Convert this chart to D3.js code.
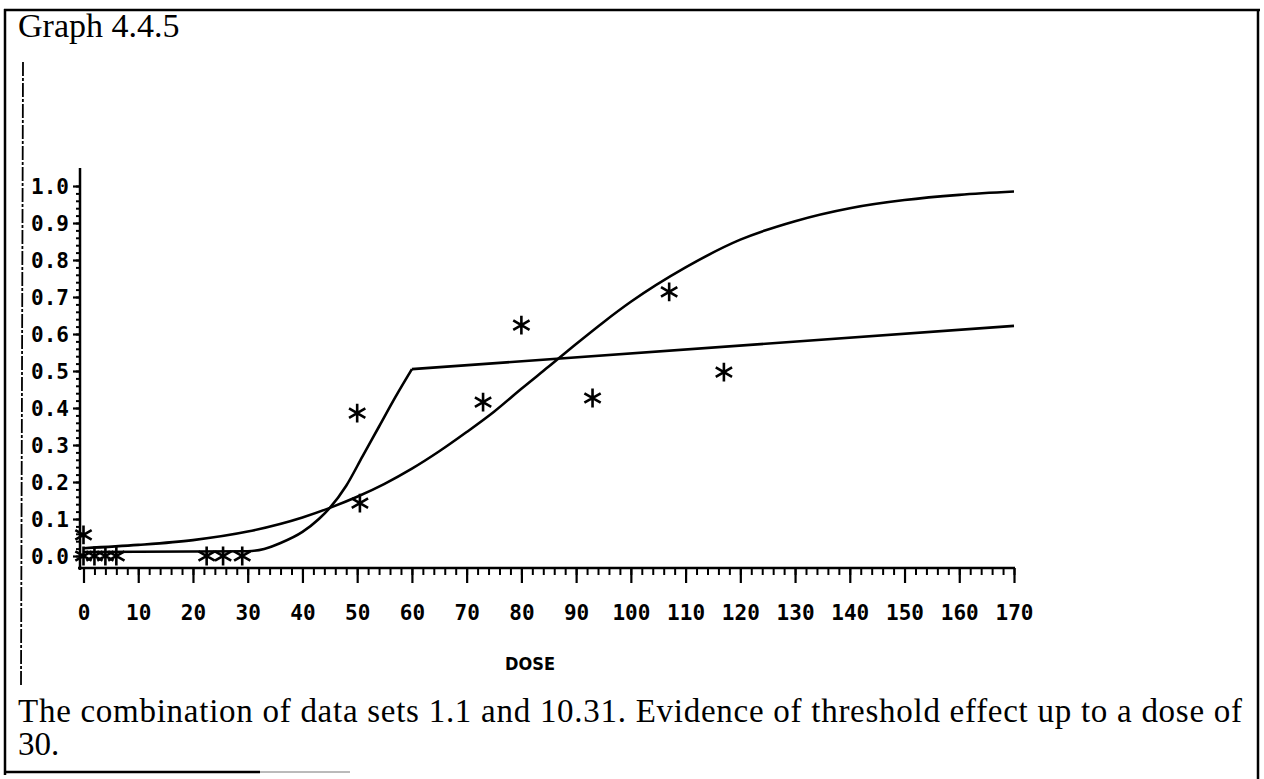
<!DOCTYPE html>
<html>
<head>
<meta charset="utf-8">
<script src="https://cdn.jsdelivr.net/npm/d3@7"></script>
<style>
  body { margin: 0; background: #fff; }
  svg { display: block; }
</style>
</head>
<body>
<div id="chart"></div>
<script>
// tick labels
const xTicks = [0, 10, 20, 30, 40, 50, 60, 70, 80, 90, 100, 110, 120, 130, 140, 150, 160, 170];
const yTicks = [0.0, 0.1, 0.2, 0.3, 0.4, 0.5, 0.6, 0.7, 0.8, 0.9, 1.0];

// observed points (stars)
const obsDose = [0, 0, 2, 4, 6, 22.5, 25.5, 29, 50, 50.5, 73, 80, 93, 107, 117];
const obsResp = [0.057, 0, 0, 0, 0, 0, 0, 0, 0.386, 0.143, 0.416, 0.624, 0.427, 0.714, 0.497];

// fitted logistic curve
const logitDose = [0, 10, 20, 30, 40, 45, 50, 55, 60, 65, 70, 75, 80, 85, 90, 95, 100, 110, 120, 130, 140, 150, 160, 170];
const logitResp = [0.021, 0.03, 0.043, 0.066, 0.104, 0.13, 0.16, 0.195, 0.236, 0.283, 0.335, 0.39, 0.452, 0.512, 0.573,
                   0.632, 0.687, 0.78, 0.855, 0.905, 0.94, 0.962, 0.976, 0.985];

// threshold model: flat, then rising to the kink at 60, then straight
const threshDose = [0, 30, 33, 36, 40, 43, 45, 48, 51, 54, 57, 60];
const threshResp = [0.011, 0.013, 0.019, 0.035, 0.065, 0.1, 0.13, 0.19, 0.27, 0.35, 0.43, 0.505];
const tailDose = [60, 170];
const tailResp = [0.505, 0.622];

const W = 1264, H = 779;
const svg = d3.select("#chart").append("svg")
  .attr("width", W).attr("height", H);

// page frame (scanned figure box)
const frame = svg.append("g").attr("stroke", "#000").attr("fill", "none");
frame.append("line").attr("x1", 4).attr("y1", 10).attr("x2", 1260).attr("y2", 10).attr("stroke-width", 2.5);
frame.append("line").attr("x1", 5).attr("y1", 9).attr("x2", 5).attr("y2", 775).attr("stroke-width", 2.5);
frame.append("line").attr("x1", 1258).attr("y1", 9).attr("x2", 1258).attr("y2", 779).attr("stroke-width", 2.5);
frame.append("line").attr("x1", 4).attr("y1", 772).attr("x2", 260).attr("y2", 772).attr("stroke-width", 2.5);
frame.append("line").attr("x1", 260).attr("y1", 772).attr("x2", 350).attr("y2", 772).attr("stroke-width", 1).attr("stroke", "#777");
frame.append("line").attr("x1", 23).attr("y1", 62).attr("x2", 21).attr("y2", 686)
  .attr("stroke-width", 1.8).attr("stroke-dasharray", "14,2,3,2");

svg.append("text")
  .attr("x", 18).attr("y", 37)
  .style("font-family", "'Liberation Serif', 'Times New Roman', serif")
  .style("font-size", "34px")
  .text("Graph 4.4.5");

const x = d3.scaleLinear().domain([0, 170]).range([83.5, 1014]);
const y = d3.scaleLinear().domain([0, 1]).range([556, 186]);

const monoFont = "'DejaVu Sans Mono', monospace";

// Y axis
const yAxisX = 80;
const gy = svg.append("g").attr("transform", `translate(${yAxisX},0)`);
gy.append("line").attr("x1", 0).attr("x2", 0).attr("y1", 168).attr("y2", 570)
  .attr("stroke", "#000").attr("stroke-width", 2.5);
gy.append("g")
  .call(d3.axisLeft(y).tickValues(d3.range(0, 1.001, 0.02)).tickSize(4).tickFormat(""))
  .call(g => g.select(".domain").remove())
  .call(g => g.selectAll("line").attr("stroke-width", 2));
gy.append("g")
  .call(d3.axisLeft(y).tickValues(yTicks).tickSize(7).tickFormat(d3.format(".1f")))
  .call(g => g.select(".domain").remove())
  .call(g => g.selectAll("line").attr("stroke-width", 2.2))
  .call(g => g.selectAll("text")
    .attr("x", -11).attr("dy", "0.36em")
    .style("font-family", monoFont).style("font-size", "21px").style("font-weight", "bold"));

// X axis
const xAxisY = 568;
const gx = svg.append("g").attr("transform", `translate(0,${xAxisY})`);
gx.append("line").attr("x1", 78).attr("x2", 1015).attr("y1", 0).attr("y2", 0)
  .attr("stroke", "#000").attr("stroke-width", 2.5);
gx.append("g")
  .call(d3.axisBottom(x).tickValues(d3.range(0, 171, 2)).tickSize(7).tickFormat(""))
  .call(g => g.select(".domain").remove())
  .call(g => g.selectAll("line").attr("stroke-width", 2));
gx.append("g")
  .call(d3.axisBottom(x).tickValues(xTicks).tickSize(15).tickFormat(d3.format("d")))
  .call(g => g.select(".domain").remove())
  .call(g => g.selectAll("line").attr("stroke-width", 2.2))
  .call(g => g.selectAll("text")
    .attr("y", 52).attr("dy", 0)
    .style("font-family", monoFont).style("font-size", "21px").style("font-weight", "bold"));

svg.append("text")
  .attr("x", 530).attr("y", 670)
  .attr("text-anchor", "middle")
  .style("font-family", "'DejaVu Sans Condensed', " + monoFont)
  .style("font-size", "18px").style("font-weight", "bold")
  .text("DOSE");

// curves
const plot = svg.append("g").attr("fill", "none").attr("stroke", "#000").attr("stroke-width", 2.6);

const smooth = d3.line().x(d => x(d[0])).y(d => y(d[1])).curve(d3.curveMonotoneX);
const straight = d3.line().x(d => x(d[0])).y(d => y(d[1]));

plot.append("path").attr("d", smooth(logitDose.map((d, i) => [d, logitResp[i]])));
plot.append("path").attr("d", smooth(threshDose.map((d, i) => [d, threshResp[i]])));
plot.append("path").attr("d", straight(tailDose.map((d, i) => [d, tailResp[i]])));

// stars
const star = d3.symbol().type(d3.symbolAsterisk).size(250);
svg.append("g")
  .selectAll("path")
  .data(obsDose.map((d, i) => [d, obsResp[i]]))
  .join("path")
  .attr("transform", d => `translate(${x(d[0])},${y(d[1])})`)
  .attr("d", star)
  .attr("fill", "none").attr("stroke", "#000").attr("stroke-width", 2.6);

// caption
const cap = svg.append("g")
  .style("font-family", "'Liberation Serif', 'Times New Roman', serif")
  .style("font-size", "33px");
cap.append("text").attr("x", 18).attr("y", 722)
  .attr("textLength", 1224).attr("lengthAdjust", "spacing")
  .text("The combination of data sets 1.1 and 10.31. Evidence of threshold effect up to a dose of");
cap.append("text").attr("x", 18).attr("y", 755).text("30.");
</script>
</body>
</html>
